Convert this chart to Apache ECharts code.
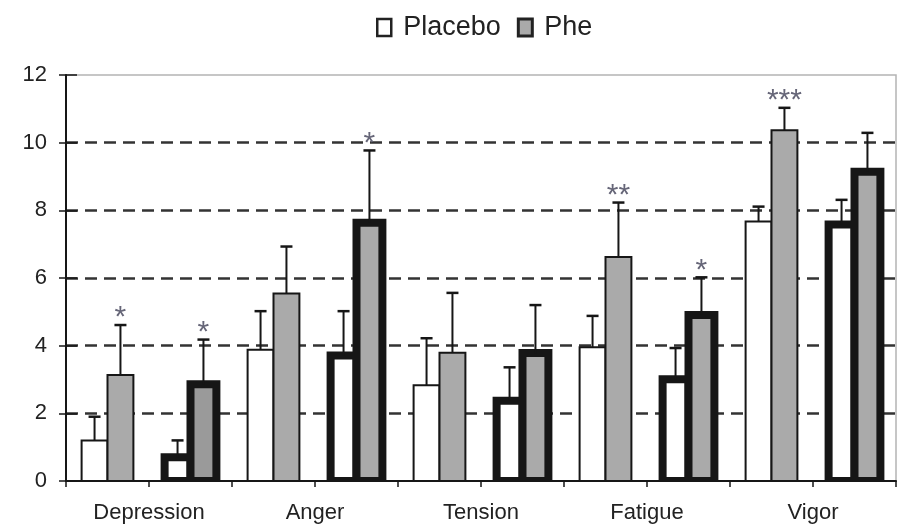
<!DOCTYPE html>
<html>
<head>
<meta charset="utf-8">
<script src="https://cdn.jsdelivr.net/npm/echarts@6/dist/echarts.min.js"></script>
<style>
  html, body { margin: 0; padding: 0; background: #fff; }
  #chart { width: 897px; height: 526px; }
</style>
</head>
<body>
<div id="chart"></div>
<script>
// Mood subscales; each one holds two bar groups (plain outline, then bold outline)
const scales = ['Depression', 'Anger', 'Tension', 'Fatigue', 'Vigor'];
const groupSlots = ['Depression-1', 'Depression-2', 'Anger-1', 'Anger-2', 'Tension-1',
                    'Tension-2', 'Fatigue-1', 'Fatigue-2', 'Vigor-1', 'Vigor-2'];

// Group means and SEM (upper error bar only)
const placeboMean = [1.20, 0.70, 3.88, 3.71, 2.83, 2.37, 3.95, 3.01, 7.67, 7.58];
const placeboSem  = [0.70, 0.50, 1.14, 1.31, 1.39, 0.99, 0.93, 0.92, 0.44, 0.73];
const pheMean     = [3.13, 2.86, 5.54, 7.63, 3.79, 3.78, 6.62, 4.91, 10.37, 9.14];
const pheSem      = [1.48, 1.32, 1.39, 2.14, 1.77, 1.42, 1.61, 1.11, 0.66, 1.15];
// Significance of Phe vs placebo
const pheSignificance = ['*', '*', '', '*', '', '', '**', '*', '***', ''];

// Value axis ticks
const yMin = 0, yMax = 12, yStep = 2;

const FONT = "'Liberation Sans', Arial, sans-serif";
const INK = '#161616';

function placeboFill() { return '#ffffff'; }
function pheFill(i) { return i === 1 ? '#9a9a9a' : '#aaaaaa'; }

// side: -1 draws the bar left of the slot centre, +1 right of it
function makeRenderer(side, fillFor, marks) {
  return function (params, api) {
    const i = api.value(0);
    const mean = api.value(1);
    const sem = api.value(2);
    const band = api.size([1, 0])[0];
    const barW = band * 0.312;
    const top = api.coord([i, mean]);
    const base = api.coord([i, 0]);
    const errTop = api.coord([i, mean + sem]);
    const bold = i % 2 === 1;
    const x0 = side < 0 ? top[0] - barW : top[0];
    const cx = x0 + barW / 2;
    const capHalf = 6;
    const children = [
      {
        type: 'rect',
        shape: { x: x0, y: top[1], width: barW, height: base[1] - top[1] },
        style: { fill: fillFor(i), stroke: INK, lineWidth: bold ? 8 : 2 }
      },
      {
        type: 'line',
        shape: { x1: cx, y1: top[1], x2: cx, y2: errTop[1] },
        style: { stroke: INK, lineWidth: 2 }
      },
      {
        type: 'line',
        shape: { x1: cx - capHalf, y1: errTop[1], x2: cx + capHalf, y2: errTop[1] },
        style: { stroke: INK, lineWidth: 2.5 }
      }
    ];
    const mark = marks ? marks[i] : '';
    if (mark) {
      children.push({
        type: 'text',
        style: {
          text: mark, x: cx, y: errTop[1] - 7,
          align: 'center', verticalAlign: 'middle',
          fill: '#666678', fontSize: 30, fontFamily: FONT
        }
      });
    }
    return { type: 'group', children: children };
  };
}

const chart = echarts.init(document.getElementById('chart'), null, { renderer: 'canvas' });

chart.setOption({
  animation: false,
  backgroundColor: '#ffffff',
  legend: {
    top: 9,
    left: 371,
    icon: 'rect',
    itemWidth: 14,
    itemHeight: 17,
    itemGap: 16,
    textStyle: { fontSize: 27, color: '#222', fontFamily: FONT, padding: [0, 0, 0, 7] },
    data: [
      { name: 'Placebo', itemStyle: { color: '#ffffff', borderColor: '#222', borderWidth: 2.5 } },
      { name: 'Phe', itemStyle: { color: '#aaaaaa', borderColor: '#222', borderWidth: 3 } }
    ]
  },
  grid: {
    left: 66, right: 1, top: 75, bottom: 45,
    show: true, borderColor: '#b4b4b4', borderWidth: 1.5
  },
  xAxis: [
    {
      type: 'category',
      data: groupSlots,
      boundaryGap: true,
      axisLine: { show: true, lineStyle: { color: INK, width: 2 } },
      axisTick: { show: true, interval: 0, length: 6, lineStyle: { color: INK, width: 1.5 } },
      axisLabel: { show: false },
      splitLine: { show: false }
    },
    {
      type: 'category',
      data: scales,
      position: 'bottom',
      boundaryGap: true,
      axisLine: { show: false },
      axisTick: { show: false },
      axisLabel: { show: true, interval: 0, margin: 21, fontSize: 22, color: '#222', fontFamily: FONT },
      splitLine: { show: false }
    }
  ],
  yAxis: [
    {
      type: 'value',
      min: yMin, max: yMax, interval: yStep,
      axisLine: { show: true, lineStyle: { color: INK, width: 2 } },
      axisTick: { show: true, length: 7, lineStyle: { color: INK, width: 1.5 } },
      axisLabel: { margin: 19, fontSize: 22, color: '#222', fontFamily: FONT },
      splitLine: {
        show: true, showMinLine: false, showMaxLine: false,
        lineStyle: { color: '#333', width: 2.5, type: [12, 7] }
      }
    },
    {
      type: 'value',
      min: yMin, max: yMax, interval: yStep,
      position: 'left',
      axisLine: { show: false },
      axisTick: { show: true, inside: true, length: 11, lineStyle: { color: INK, width: 1.5 } },
      axisLabel: { show: false },
      splitLine: { show: false }
    }
  ],
  series: [
    {
      name: 'Placebo',
      type: 'custom',
      xAxisIndex: 0, yAxisIndex: 0,
      clip: true,
      itemStyle: { color: '#ffffff', borderColor: '#222', borderWidth: 2 },
      encode: { x: 0, y: 1 },
      renderItem: makeRenderer(-1, placeboFill, null),
      data: placeboMean.map((m, i) => [i, m, placeboSem[i]])
    },
    {
      name: 'Phe',
      type: 'custom',
      xAxisIndex: 0, yAxisIndex: 0,
      clip: true,
      itemStyle: { color: '#aaaaaa', borderColor: '#222', borderWidth: 2 },
      encode: { x: 0, y: 1 },
      renderItem: makeRenderer(1, pheFill, pheSignificance),
      data: pheMean.map((m, i) => [i, m, pheSem[i]])
    }
  ]
});
</script>
</body>
</html>
